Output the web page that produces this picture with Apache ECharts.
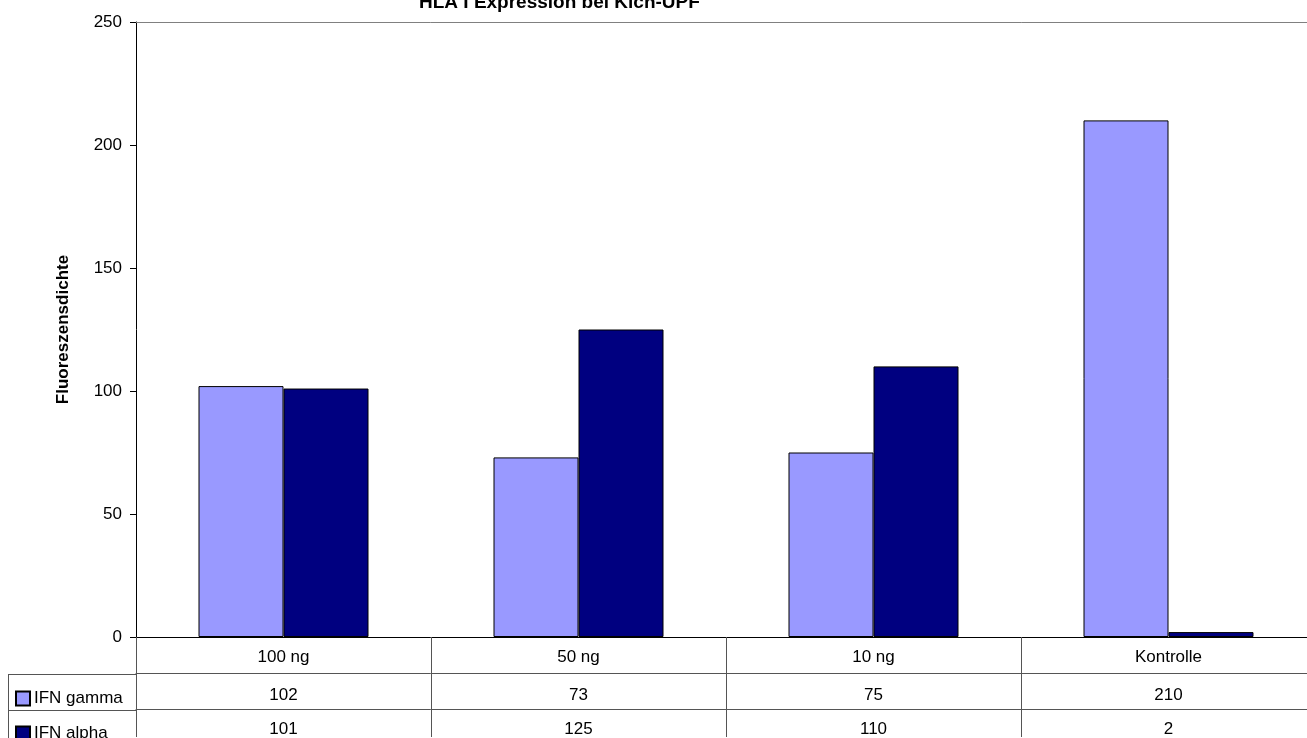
<!DOCTYPE html>
<html>
<head>
<meta charset="utf-8">
<script src="https://cdn.jsdelivr.net/npm/echarts@6/dist/echarts.min.js"></script>
<style>
  html, body { margin: 0; padding: 0; background: #ffffff; overflow: hidden; }
  #chart { width: 1316px; height: 738px; }
</style>
</head>
<body>
<div id="chart"></div>
<script>
// Fluorescence density per dose, two interferons
const categories = ['100 ng', '50 ng', '10 ng', 'Kontrolle'];
const seriesNames = ['IFN gamma', 'IFN alpha'];
const gammaValues = [102, 73, 75, 210];
const alphaValues = [101, 125, 110, 2];
const yTicks = { min: 0, max: 250, interval: 50 };

const FONT = '"Liberation Sans", Arial, sans-serif';
const FS = 17;
const chart = echarts.init(document.getElementById('chart'), null, { renderer: 'canvas' });

// Value rows of the data table below the plot
function tableRowAxis(values, offset, margin) {
  return {
    type: 'category',
    position: 'bottom',
    offset: offset,
    data: values.map(String),
    axisLine: { show: true, lineStyle: { color: '#555555', width: 1 } },
    axisTick: { show: false },
    axisLabel: { color: '#000', fontFamily: FONT, fontSize: FS, margin: margin, interval: 0 },
    splitLine: { show: false }
  };
}

// One legend block per table row
function rowLegend(name, top) {
  return {
    orient: 'vertical',
    left: 15,
    top: top,
    padding: 0,
    itemWidth: 14,
    itemHeight: 14,
    itemGap: 0,
    icon: 'rect',
    data: [name],
    textStyle: { fontFamily: FONT, fontSize: FS, color: '#000', padding: [0, 0, 0, -1] }
  };
}

chart.setOption({
  animation: false,
  backgroundColor: '#ffffff',
  title: {
    text: 'HLA I Expression bei Kich-UPF',
    left: 414,
    top: -12,
    textStyle: { fontFamily: FONT, fontSize: 19, fontWeight: 'bold', color: '#000' }
  },
  legend: [rowLegend(seriesNames[0], 690), rowLegend(seriesNames[1], 725)],
  grid: { left: 136, right: 0, top: 22, bottom: 100, containLabel: false },
  xAxis: [
    {
      type: 'category',
      position: 'bottom',
      data: categories,
      axisLine: { show: true, lineStyle: { color: '#000', width: 1 } },
      axisTick: { show: true, interval: 0, length: 100, lineStyle: { color: '#555555', width: 1 } },
      axisLabel: { color: '#000', fontFamily: FONT, fontSize: FS, margin: 12, interval: 0 },
      splitLine: { show: false }
    },
    tableRowAxis(gammaValues, 36, 14),
    tableRowAxis(alphaValues, 72, 12),
    {
      type: 'category',
      position: 'top',
      data: categories,
      axisLine: { show: true, lineStyle: { color: '#808080', width: 1 } },
      axisTick: { show: false },
      axisLabel: { show: false },
      splitLine: { show: false }
    }
  ],
  yAxis: {
    type: 'value',
    min: yTicks.min,
    max: yTicks.max,
    interval: yTicks.interval,
    name: 'Fluoreszensdichte',
    nameLocation: 'middle',
    nameGap: 64,
    nameTextStyle: { fontFamily: FONT, fontSize: FS, fontWeight: 'bold', color: '#000' },
    axisLine: { show: true, lineStyle: { color: '#000', width: 1 } },
    axisTick: { show: true, inside: false, length: 6, lineStyle: { color: '#000' } },
    axisLabel: { color: '#000', fontFamily: FONT, fontSize: FS, margin: 14 },
    splitLine: { show: false }
  },
  series: [
    {
      name: seriesNames[0],
      type: 'bar',
      data: gammaValues,
      barWidth: 85,
      barGap: '0%',
      itemStyle: { color: '#9999FF', borderColor: '#000', borderWidth: 1 }
    },
    {
      name: seriesNames[1],
      type: 'bar',
      data: alphaValues,
      barWidth: 85,
      barGap: '0%',
      itemStyle: { color: '#000080', borderColor: '#000', borderWidth: 1 }
    }
  ],
  // Borders of the series-name column of the data table
  graphic: [
    { type: 'line', shape: { x1: 8, y1: 674.5, x2: 136, y2: 674.5 }, style: { stroke: '#555555', lineWidth: 1 } },
    { type: 'line', shape: { x1: 8, y1: 710.5, x2: 136, y2: 710.5 }, style: { stroke: '#555555', lineWidth: 1 } },
    { type: 'line', shape: { x1: 8.5, y1: 674, x2: 8.5, y2: 738 }, style: { stroke: '#555555', lineWidth: 1 } }
  ]
});
</script>
</body>
</html>
